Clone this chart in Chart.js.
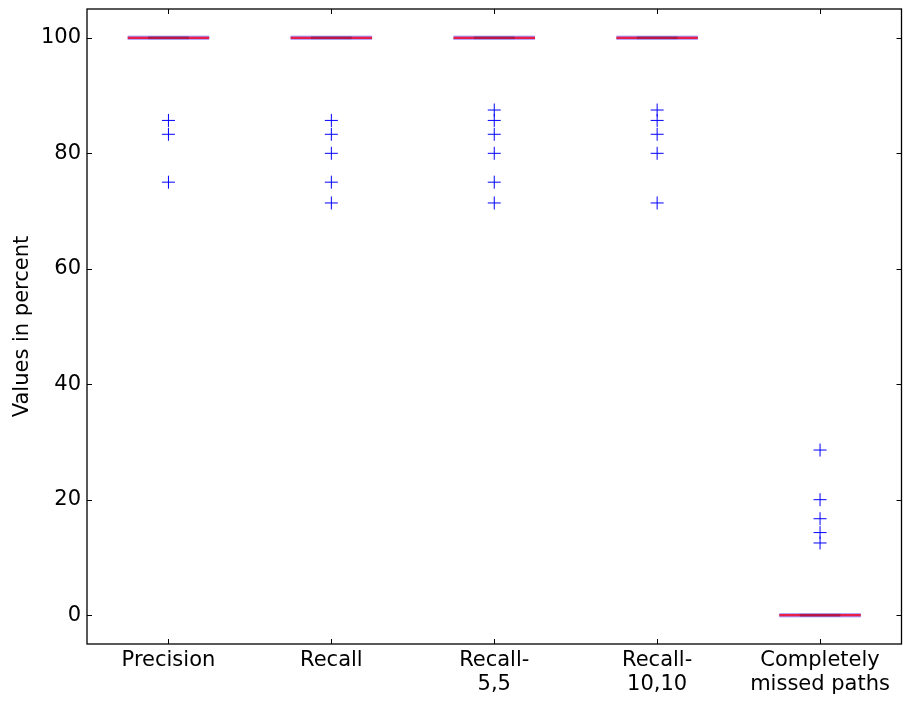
<!DOCTYPE html>
<html>
<head>
<meta charset="utf-8">
<script src="https://cdn.jsdelivr.net/npm/chart.js@4.4.0/dist/chart.umd.min.js"></script>
<style>
  html, body { margin: 0; padding: 0; background: #fff; }
  #wrap { width: 909px; height: 702px; }
</style>
</head>
<body>
<div id="wrap"><canvas id="box_chart"></canvas></div>
<script>
// categories and box statistics (degenerate boxes, everything at median)
var categories = [["Precision"], ["Recall"], ["Recall-", "5,5"], ["Recall-", "10,10"], ["Completely", "missed paths"]];
var medians = [100, 100, 100, 100, 0];
var q1 = [100, 100, 100, 100, 0];
var q3 = [100, 100, 100, 100, 0];
var whiskerLow = [100, 100, 100, 100, 0];
var whiskerHigh = [100, 100, 100, 100, 0];
var outliers = [
    [85.7, 83.3, 75],
    [85.7, 83.3, 80, 75, 71.4],
    [87.5, 85.7, 83.3, 80, 75, 71.4],
    [87.5, 85.7, 83.3, 80, 71.4],
    [28.6, 20, 16.7, 14.3, 12.5]
];
var yTicks = [0, 20, 40, 60, 80, 100];

var BOX_HALF = 0.25, CAP_HALF = 0.125;

// two points per category, then a null to break the line
function segments(values, half) {
    var pts = [];
    values.forEach(function (v, i) {
        pts.push({ x: i - half, y: v }, { x: i + half, y: v }, { x: i + 0.5, y: null });
    });
    return pts;
}
function fliers() {
    var pts = [];
    outliers.forEach(function (list, i) {
        list.forEach(function (v) { pts.push({ x: i, y: v }); });
    });
    return pts;
}

var FONT = "'DejaVu Sans', sans-serif";

// inward ticks on all four sides + frame
var framePlugin = {
    id: 'frame',
    afterDraw: function (chart) {
        var ctx = chart.ctx, a = chart.chartArea;
        var xs = chart.scales.x, ys = chart.scales.y, L = 5;
        ctx.save();
        ctx.strokeStyle = '#000';
        ctx.lineWidth = 1;
        ctx.beginPath();
        yTicks.forEach(function (t) {
            var py = Math.round(ys.getPixelForValue(t)) + 0.5;
            ctx.moveTo(a.left, py); ctx.lineTo(a.left + L, py);
            ctx.moveTo(a.right, py); ctx.lineTo(a.right - L, py);
        });
        categories.forEach(function (c, i) {
            var px = Math.round(xs.getPixelForValue(i)) + 0.5;
            ctx.moveTo(px, a.bottom); ctx.lineTo(px, a.bottom - L);
            ctx.moveTo(px, a.top); ctx.lineTo(px, a.top + L);
        });
        ctx.stroke();
        ctx.lineWidth = 1.3;
        ctx.strokeRect(a.left, a.top, a.right - a.left, a.bottom - a.top);
        ctx.restore();
    }
};

function line(label, values, half, color, width, order) {
    return {
        label: label,
        data: segments(values, half),
        showLine: true, spanGaps: false, pointRadius: 0,
        borderColor: color, borderWidth: width, order: order
    };
}

new Chart(document.getElementById("box_chart"), {
    type: 'scatter',
    data: {
        datasets: [
            {
                label: "fliers",
                data: fliers(),
                pointStyle: 'cross',
                pointRadius: 6.5,
                pointHoverRadius: 6.5,
                borderColor: '#0000ff',
                backgroundColor: '#0000ff',
                pointBorderWidth: 1,
                order: 5
            },
            line("box low", q1, BOX_HALF, 'rgba(140,120,245,0.55)', 4, 4),
            line("box high", q3, BOX_HALF, 'rgba(140,120,245,0.55)', 4, 4),
            line("median", medians, BOX_HALF, '#e61e48', 2.4, 1),
            line("cap low", whiskerLow, CAP_HALF, 'rgba(60,0,50,0.28)', 3, 0),
            line("cap high", whiskerHigh, CAP_HALF, 'rgba(60,0,50,0.0)', 3, 0)
        ]
    },
    options: {
        responsive: true,
        maintainAspectRatio: false,
        animation: false,
        events: [],
        layout: { padding: { top: 9, right: 1, left: 0, bottom: 0 } },
        plugins: {
            legend: { display: false },
            tooltip: { enabled: false },
            title: { display: false }
        },
        scales: {
            x: {
                type: 'linear',
                min: -0.5,
                max: 4.5,
                afterBuildTicks: function (scale) {
                    scale.ticks = categories.map(function (c, i) { return { value: i }; });
                },
                afterFit: function (scale) {
                    scale.height = 58;
                    scale.paddingLeft = 0; scale.paddingRight = 0;
                },
                grid: { display: false, drawTicks: false },
                border: { display: false },
                ticks: {
                    autoSkip: false,
                    maxRotation: 0,
                    padding: 5,
                    color: '#000',
                    font: { family: FONT, size: 21, lineHeight: 1.14 },
                    callback: function (v) { return categories[v]; }
                }
            },
            y: {
                min: -5,
                max: 105,
                afterBuildTicks: function (scale) {
                    scale.ticks = yTicks.map(function (v) { return { value: v }; });
                },
                afterFit: function (scale) {
                    scale.width = 87;
                    scale.paddingTop = 0; scale.paddingBottom = 0;
                },
                grid: { display: false, drawTicks: false },
                border: { display: false },
                ticks: {
                    padding: 6,
                    color: '#000',
                    font: { family: FONT, size: 21 }
                },
                title: {
                    display: true,
                    text: 'Values in percent',
                    color: '#000',
                    padding: { top: 10, bottom: 0 },
                    font: { family: FONT, size: 21 }
                }
            }
        }
    },
    plugins: [framePlugin]
});
</script>
</body>
</html>
